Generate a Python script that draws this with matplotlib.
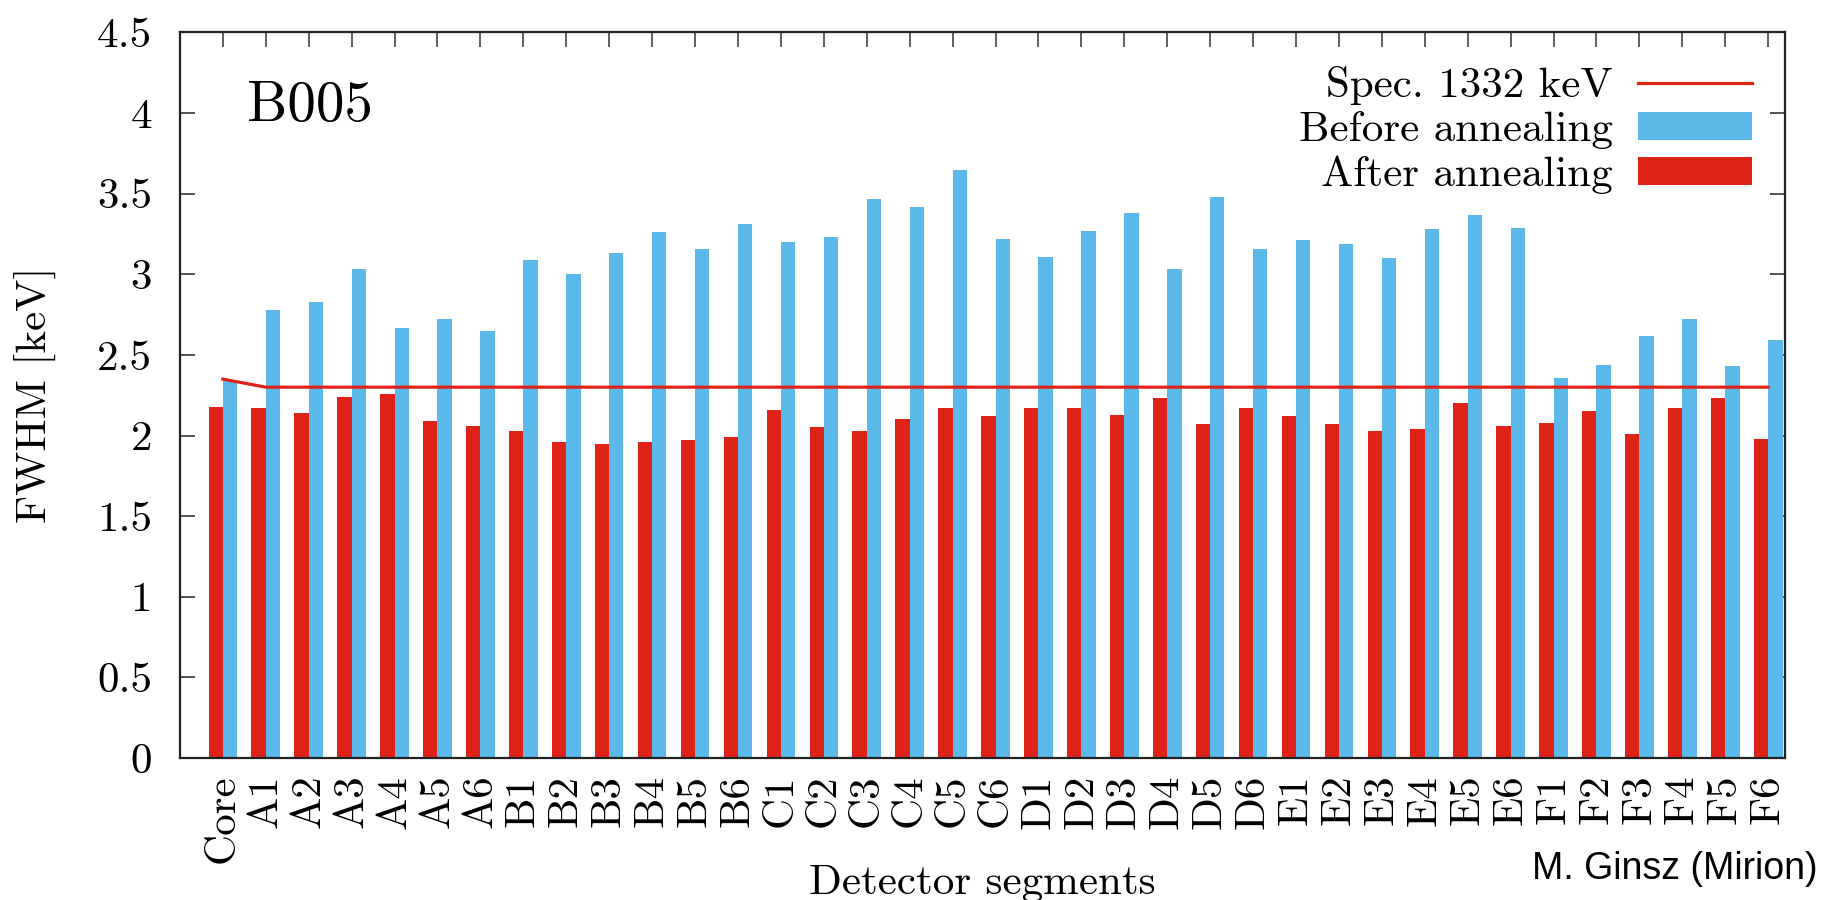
import numpy as np
import matplotlib.pyplot as plt

segments = ["Core",
            "A1", "A2", "A3", "A4", "A5", "A6",
            "B1", "B2", "B3", "B4", "B5", "B6",
            "C1", "C2", "C3", "C4", "C5", "C6",
            "D1", "D2", "D3", "D4", "D5", "D6",
            "E1", "E2", "E3", "E4", "E5", "E6",
            "F1", "F2", "F3", "F4", "F5", "F6"]

before = [2.34,
          2.78, 2.83, 3.03, 2.67, 2.72, 2.65,
          3.09, 3.00, 3.13, 3.26, 3.155, 3.31,
          3.20, 3.23, 3.47, 3.42, 3.65, 3.22,
          3.11, 3.27, 3.38, 3.03, 3.48, 3.155,
          3.21, 3.19, 3.10, 3.28, 3.37, 3.29,
          2.36, 2.44, 2.62, 2.72, 2.43, 2.59]

after = [2.18,
         2.17, 2.14, 2.24, 2.26, 2.09, 2.06,
         2.03, 1.96, 1.95, 1.96, 1.97, 1.99,
         2.16, 2.05, 2.03, 2.10, 2.17, 2.12,
         2.17, 2.17, 2.13, 2.23, 2.07, 2.17,
         2.12, 2.07, 2.03, 2.04, 2.20, 2.06,
         2.08, 2.15, 2.01, 2.17, 2.23, 1.98]

spec = [2.35] + [2.3] * 36

RED = "#e02318"
BLUE = "#5ab9e8"

plt.rcParams["font.family"] = "cmr10"
plt.rcParams["axes.formatter.use_mathtext"] = True
plt.rcParams["font.size"] = 31

fig = plt.figure(figsize=(18.21, 9), dpi=100)
ax = fig.add_axes([0.0988, 0.1578, 0.8814, 0.8061])

x = np.arange(len(segments))
w = 1 / 3
ax.bar(x - w / 2, after, width=w, color=RED, linewidth=0, label="After annealing", zorder=2)
ax.bar(x + w / 2, before, width=w, color=BLUE, linewidth=0, label="Before annealing", zorder=2)
ax.plot(x, spec, color=RED, lw=2.3, label="Spec. 1332 keV", zorder=3)

ax.set_xlim(-1.0, 36.39)
ax.set_ylim(0, 4.5)
ax.set_yticks(np.arange(0, 4.51, 0.5))
ax.set_yticklabels(["0", "0.5", "1", "1.5", "2", "2.5", "3", "3.5", "4", "4.5"])
ax.set_xticks(x)
ax.set_xticklabels(segments, rotation=90, va="top", ha="center")

ax.tick_params(axis="y", direction="in", length=11, width=1.2, right=True, pad=20, color="#333333")
ax.tick_params(axis="x", direction="in", length=11, width=1.2, bottom=False, top=True,
               labelbottom=True, pad=12, color="#444444")
for s in ax.spines.values():
    s.set_linewidth(1.6)
    s.set_color("#222222")

ax.set_ylabel("FWHM [keV]")
ax.yaxis.set_label_coords(-0.077, 0.5)
ax.text(0.5, -0.1875, "Detector segments", transform=ax.transAxes,
        ha="center", va="baseline")

ax.text(0.042, 0.878, "B005", transform=ax.transAxes, fontsize=41, va="baseline")

handles, labels = ax.get_legend_handles_labels()
lookup = dict(zip(labels, handles))
order = ["Spec. 1332 keV", "Before annealing", "After annealing"]
leg = ax.legend([lookup[k] for k in order], order,
                loc="upper right", bbox_to_anchor=(0.9905, 0.977), frameon=False,
                markerfirst=False, handlelength=2.65, handleheight=0.62,
                labelspacing=0.14, handletextpad=0.6, borderaxespad=0.0)

fig.text(0.998, 1 - 879 / 900, "M. Ginsz (Mirion)", ha="right", va="baseline",
         fontsize=27, family=["Liberation Sans Narrow", "Liberation Sans"])

fig.savefig("out.png", dpi=100)
